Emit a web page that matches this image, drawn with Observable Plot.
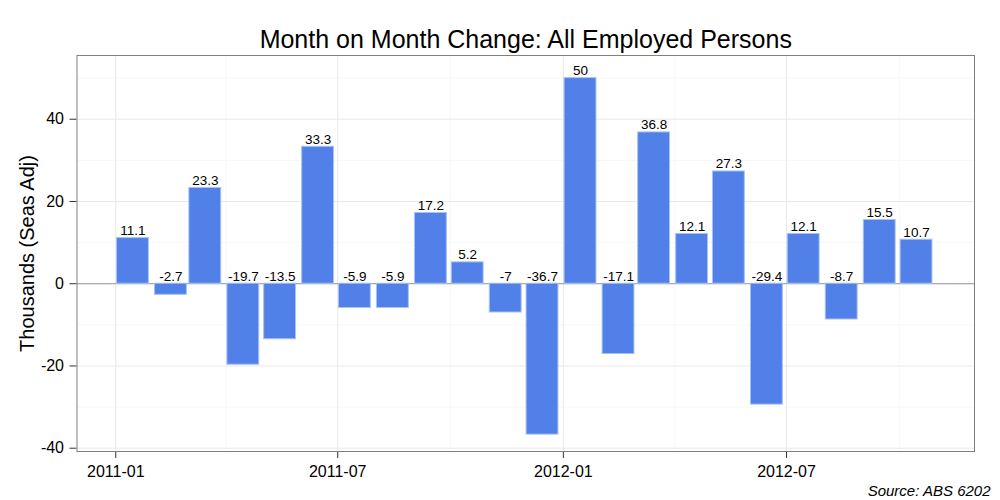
<!DOCTYPE html>
<html>
<head>
<meta charset="utf-8">
<script src="https://cdn.jsdelivr.net/npm/d3@7"></script>
<script src="https://cdn.jsdelivr.net/npm/@observablehq/plot@0.6"></script>
<style>
  html, body { margin: 0; padding: 0; background: #fff; }
  #chart svg { display: block; }
</style>
</head>
<body>
<div id="chart"></div>
<script>
// ---- Data ----
const months = ["2011-01","2011-02","2011-03","2011-04","2011-05","2011-06","2011-07","2011-08","2011-09","2011-10","2011-11","2011-12",
                "2012-01","2012-02","2012-03","2012-04","2012-05","2012-06","2012-07","2012-08","2012-09","2012-10"];
const changes = [11.1, -2.7, 23.3, -19.7, -13.5, 33.3, -5.9, -5.9, 17.2, 5.2, -7, -36.7,
                 50, -17.1, 36.8, 12.1, 27.3, -29.4, 12.1, -8.7, 15.5, 10.7];
const xMajorTicks = ["2011-01","2011-07","2012-01","2012-07"];
const xMinorTicks = ["2011-04","2011-10","2012-04","2012-10"];
const yMajorTicks = [-40, -20, 0, 20, 40];
const yMinorTicks = [-30, -10, 10, 30, 50];
const titleText = "Month on Month Change: All Employed Persons";
const yLabel = "Thousands (Seas Adj)";
const captionText = "Source: ABS 6202";

// ---- Build table ----
const parseMonth = s => { const [y, m] = s.split("-").map(Number); return new Date(Date.UTC(y, m - 1, 1)); };
const midMonth = s => { const [y, m] = s.split("-").map(Number); return new Date(Date.UTC(y, m - 1, 15)); };
const data = months.map((m, i) => {
  const c = midMonth(m);
  return { date: c, x1: d3.utcDay.offset(c, -13), x2: d3.utcDay.offset(c, 13), value: changes[i], label: String(changes[i]) };
});

const font = "'Liberation Sans', Arial, Helvetica, sans-serif";

const chart = Plot.plot({
  width: 1000,
  height: 500,
  marginLeft: 76.5,
  marginRight: 26,
  marginTop: 55,
  marginBottom: 49,
  style: { fontFamily: font, background: "#fff", color: "#000" },
  x: { type: "utc", domain: [new Date(Date.UTC(2010, 10, 30, 9)), new Date(Date.UTC(2012, 11, 1, 7))] },
  y: { domain: [-40.8, 55.5] },
  marks: [
    // minor grid
    Plot.ruleY(yMinorTicks, { stroke: "#f7f7f7", strokeWidth: 1 }),
    Plot.ruleX(xMinorTicks.map(parseMonth), { stroke: "#f7f7f7", strokeWidth: 1 }),
    // major grid
    Plot.ruleY(yMajorTicks, { stroke: "#e8e8e8", strokeWidth: 1 }),
    Plot.ruleX(xMajorTicks.map(parseMonth), { stroke: "#e8e8e8", strokeWidth: 1 }),
    // zero line
    Plot.ruleY([0], { stroke: "#9a9a9a", strokeWidth: 1 }),
    // bars
    Plot.rectY(data, { x1: "x1", x2: "x2", y1: 0, y2: "value", fill: "#5181e8", stroke: "#a9c2f4", strokeWidth: 1 }),
    // bar labels
    Plot.text(data, { x: "date", y: d => Math.max(d.value, 0), text: "label", lineAnchor: "bottom", dy: -3, fontSize: 13.5, fill: "#000" }),
    // axes
    Plot.axisY({ ticks: yMajorTicks, tickSize: 7, tickPadding: 6, fontSize: 16, label: null, stroke: "#333", tickFormat: d => String(d) }),
    Plot.axisX({ ticks: xMajorTicks.map(parseMonth), tickSize: 7, tickPadding: 7, fontSize: 16, label: null, stroke: "#333", tickFormat: d3.utcFormat("%Y-%m") }),
    // panel border
    Plot.frame({ stroke: "#808080", strokeWidth: 1 }),
    // y-axis title
    Plot.text([yLabel], { frameAnchor: "left", textAnchor: "middle", lineAnchor: "middle", rotate: -90, dx: -49.5, fontSize: 20, fill: "#000" }),
    // title
    Plot.text([titleText], { frameAnchor: "top", textAnchor: "middle", lineAnchor: "top", dy: -25, fontSize: 25, fill: "#000" }),
    // caption
    Plot.text([captionText], { frameAnchor: "bottom-right", textAnchor: "end", lineAnchor: "bottom", dx: 16, dy: 44.7, fontSize: 15, fontStyle: "italic", fill: "#000" })
  ]
});
document.getElementById("chart").appendChild(chart);
</script>
</body>
</html>
